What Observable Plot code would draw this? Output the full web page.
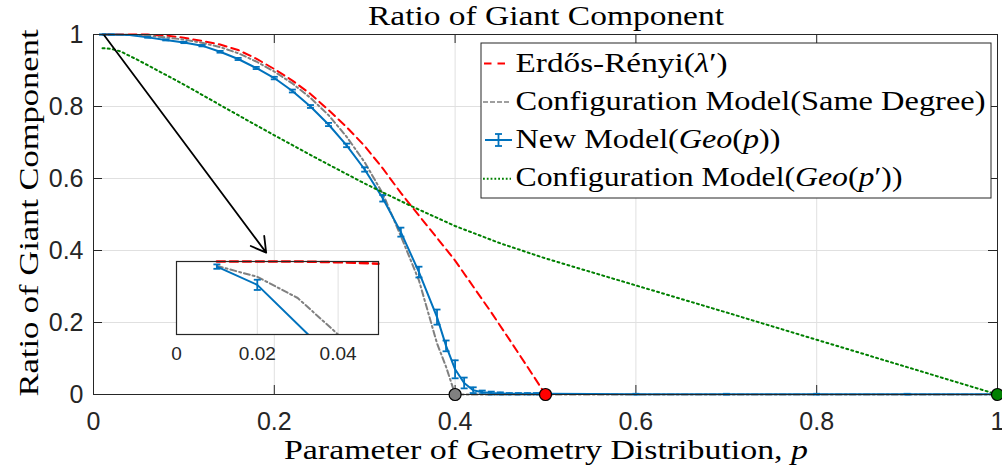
<!DOCTYPE html>
<html><head><meta charset="utf-8">
<script src="https://cdn.jsdelivr.net/npm/d3@7"></script>
<script src="https://cdn.jsdelivr.net/npm/@observablehq/plot@0.6"></script>
<style>
body{margin:0;background:#fff;}
#wrap{position:relative;width:1002px;height:473px;overflow:hidden;background:#fff}
#wrap > svg{position:absolute}
#overlay text, #overlay tspan{font-family:"Liberation Serif","Times New Roman",serif !important;}
</style></head><body><div id="wrap"></div>
<script>
// ---------------- data ----------------
const xTicks = [0, 0.2, 0.4, 0.6, 0.8, 1];
const yTicks = [0, 0.2, 0.4, 0.6, 0.8, 1];
const insetTicks = [0, 0.02, 0.04];

// Erdős-Rényi(λ')
const pER = [0.01,0.02,0.03,0.04,0.05,0.06,0.08,0.10,0.12,0.14,0.16,0.18,0.20,0.22,0.24,0.26,0.28,0.30,0.32,0.34,0.36,0.38,0.40,0.42,0.44,0.46,0.48,0.50];
const vER = [1,1,1,0.99999,0.99997,0.9998,0.997,0.991,0.982,0.972,0.957,0.933,0.904,0.872,0.835,0.79,0.743,0.69,0.628,0.56,0.497,0.435,0.372,0.30,0.228,0.153,0.077,0];

// Configuration Model (Same Degree)
const pSame = [0.01,0.02,0.03,0.04,0.05,0.06,0.08,0.10,0.12,0.14,0.16,0.18,0.20,0.22,0.24,0.26,0.28,0.30,0.32,0.34,0.36,0.38,0.39,0.40,0.50,0.60,0.70,0.80,0.90,1.00];
const vSame = [0.99994,0.99979,0.9995,0.999,0.998,0.9965,0.992,0.986,0.977,0.965,0.948,0.925,0.897,0.864,0.824,0.776,0.716,0.645,0.558,0.44,0.317,0.142,0.077,0,0,0,0,0,0,0];

// New Model (Geo(p)) with error bars
const pNew = [0.01,0.02,0.04,0.06,0.08,0.10,0.12,0.14,0.16,0.18,0.20,0.22,0.24,0.26,0.28,0.30,0.32,0.34,0.36,0.38,0.39,0.40,0.41,0.42,0.43,0.44,0.45,0.46,0.47,0.48,0.49,0.50,0.60,0.70,0.80,0.90,1.00];
const vNew = [0.99993,0.99968,0.9986,0.992,0.985,0.978,0.969,0.952,0.932,0.907,0.879,0.843,0.80,0.75,0.692,0.625,0.545,0.451,0.34,0.215,0.135,0.07,0.032,0.012,0.006,0.004,0.003,0.002,0.002,0.002,0.002,0.002,0.001,0.001,0.001,0.001,0.001];
const eNew = [0.00003,0.00007,0.0003,0.001,0.0015,0.002,0.002,0.0025,0.003,0.003,0.0035,0.004,0.004,0.0045,0.005,0.006,0.009,0.0125,0.015,0.021,0.015,0.025,0.015,0.008,0.005,0.004,0.003,0.002,0.002,0.002,0.002,0.001,0.001,0.001,0.001,0.001,0.001];

// Configuration Model (Geo(p'))
const pGeo = [0.01,0.02,0.03,0.05,0.10,0.15,0.20,0.25,0.30,0.35,0.40,0.45,0.50,0.60,0.70,0.80,0.90,1.00];
const vGeo = [0.962,0.96,0.953,0.928,0.861,0.79,0.72,0.652,0.586,0.525,0.468,0.42,0.378,0.303,0.228,0.152,0.076,0];

// critical points (thresholds)
const critP = [0.4, 0.5, 1.0];
const critV = [0, 0, 0];

// annotation arrow (from top-left of the curve to the inset)
const arrowFrom = [0.012, 0.997];
const arrowTo = [0.191, 0.394];

const titleText = "Ratio of Giant Component";
const xLabelParts = [["Parameter of Geometry Distribution, ", 0], ["p", 1]];
const yLabelText = "Ratio of Giant Component";
const legendEntries = [
  [["Erdős-Rényi(", 0], ["λ", 1], ["′)", 0]],
  [["Configuration Model(Same Degree)", 0]],
  [["New Model(", 0], ["Geo", 1], ["(", 0], ["p", 1], ["))", 0]],
  [["Configuration Model(", 0], ["Geo", 1], ["(", 0], ["p", 1], ["′))", 0]]
];

// ---------------- build tables ----------------
const erData = pER.map((p, i) => ({p, v: vER[i]}));
const sameData = pSame.map((p, i) => ({p, v: vSame[i]}));
const newData = pNew.map((p, i) => ({p, v: vNew[i], e: eNew[i]}));
const geoData = pGeo.map((p, i) => ({p, v: vGeo[i]}));
const critData = critP.map((p, i) => ({p, v: critV[i], k: i}));
const arrowData = [{x1: arrowFrom[0], y1: arrowFrom[1], x2: arrowTo[0], y2: arrowTo[1]}];

// ---------------- styles ----------------
const RED = "#ff0000", GRAY = "#808080", BLUE = "#0072bd", GREEN = "#008000";
const AX = "#262626", GRID = "#e0e0e0";
const critFill = [GRAY, RED, GREEN];
const sans = "'Liberation Sans', Arial, Helvetica, sans-serif";
const serif = "'Liberation Serif', 'Times New Roman', serif";
const fmt = d => String(+d.toFixed(4));

const capSymbol = {draw(ctx) { ctx.moveTo(-3.5, 0); ctx.lineTo(3.5, 0); }};

const W = 1002, H = 473, mL = 93, mR = 5, mT = 34, mB = 79;
const innerW = W - mL - mR, innerH = H - mT - mB;
const tickLen = 9;

const main = Plot.plot({
  width: W, height: H, marginLeft: mL, marginRight: mR, marginTop: mT, marginBottom: mB,
  style: {fontFamily: sans, color: AX, background: "transparent", overflow: "visible"},
  x: {domain: [0, 1]},
  y: {domain: [0, 1]},
  marks: [
    Plot.gridX(xTicks.slice(1, -1), {stroke: GRID, strokeOpacity: 1}),
    Plot.gridY(yTicks.slice(1, -1), {stroke: GRID, strokeOpacity: 1}),
    Plot.tickX(xTicks, {x: d => d, insetTop: innerH - tickLen, stroke: AX}),
    Plot.tickX(xTicks, {x: d => d, insetBottom: innerH - tickLen, stroke: AX}),
    Plot.tickY(yTicks, {y: d => d, insetRight: innerW - tickLen, stroke: AX}),
    Plot.tickY(yTicks, {y: d => d, insetLeft: innerW - tickLen, stroke: AX}),
    Plot.axisX(xTicks, {tickSize: 0, tickPadding: 18, fontSize: 25, tickFormat: fmt, label: null}),
    Plot.axisY(yTicks, {tickSize: 0, tickPadding: 10, fontSize: 25, tickFormat: fmt, label: null}),
    Plot.line(erData, {x: "p", y: "v", stroke: RED, strokeWidth: 2, strokeDasharray: "8,5"}),
    Plot.line(sameData, {x: "p", y: "v", stroke: GRAY, strokeWidth: 2, strokeDasharray: "6,3,2,3"}),
    Plot.line(newData, {x: "p", y: "v", stroke: BLUE, strokeWidth: 2}),
    Plot.ruleX(newData, {x: "p", y1: d => d.v - d.e, y2: d => d.v + d.e, stroke: BLUE, strokeWidth: 1.8}),
    Plot.dot(newData, {x: "p", y: d => d.v + d.e, symbol: capSymbol, fill: "none", stroke: BLUE, strokeWidth: 1.8}),
    Plot.dot(newData, {x: "p", y: d => d.v - d.e, symbol: capSymbol, fill: "none", stroke: BLUE, strokeWidth: 1.8}),
    Plot.line(geoData, {x: "p", y: "v", stroke: GREEN, strokeWidth: 2, strokeDasharray: "2,3.2"}),
    Plot.arrow(arrowData, {x1: "x1", y1: "y1", x2: "x2", y2: "y2", stroke: "black", strokeWidth: 1.8, headLength: 14, bend: 0}),
    Plot.frame({stroke: AX}),
    Plot.dot(critData, {x: "p", y: "v", r: 6, fill: d => critFill[d.k], stroke: "black", strokeWidth: 1.2})
  ]
});
main.style.left = "0px"; main.style.top = "0px";
document.getElementById("wrap").appendChild(main);

// ---------------- inset ----------------
const iL = 12, iR = 6, iT = 2, iB = 32, iW = 202, iH = 73;
const inset = Plot.plot({
  width: iL + iW + iR, height: iT + iH + iB,
  marginLeft: iL, marginRight: iR, marginTop: iT, marginBottom: iB,
  style: {fontFamily: sans, color: AX, background: "transparent", overflow: "visible"},
  x: {domain: [0, 0.05]},
  y: {domain: [0.999, 1], axis: null},
  marks: [
    Plot.frame({fill: "white", stroke: "none"}),
    Plot.gridX(insetTicks.slice(1), {stroke: GRID, strokeOpacity: 1}),
    Plot.line(erData.filter(d => d.p <= 0.05), {x: "p", y: "v", stroke: RED, strokeWidth: 2.5, strokeDasharray: "8,5"}),
    Plot.line(sameData, {x: "p", y: "v", stroke: GRAY, strokeWidth: 2, strokeDasharray: "6,3,2,3", clip: true}),
    Plot.line(newData, {x: "p", y: "v", stroke: BLUE, strokeWidth: 2, clip: true}),
    Plot.ruleX(newData, {x: "p", y1: d => d.v - d.e, y2: d => d.v + d.e, stroke: BLUE, strokeWidth: 1.8, clip: true}),
    Plot.dot(newData, {x: "p", y: d => d.v + d.e, symbol: capSymbol, fill: "none", stroke: BLUE, strokeWidth: 1.8, clip: true}),
    Plot.dot(newData, {x: "p", y: d => d.v - d.e, symbol: capSymbol, fill: "none", stroke: BLUE, strokeWidth: 1.8, clip: true}),
    Plot.axisX(insetTicks, {tickSize: 0, tickPadding: 12, fontSize: 19, tickFormat: fmt, label: null}),
    Plot.frame({stroke: AX, strokeWidth: 1.2})
  ]
});
inset.style.left = (176 - iL) + "px"; inset.style.top = (260.7 - iT) + "px";
document.getElementById("wrap").appendChild(inset);

// ---------------- text overlay: title, axis labels, legend ----------------
const ov = d3.select("#wrap").append("svg").attr("id", "overlay")
  .attr("width", W).attr("height", H)
  .style("left", "0px").style("top", "0px").attr("fill", "#000");

function addParts(t, parts) {
  parts.forEach(([s, it]) => t.append("tspan")
    .style("font-family", serif)
    .style("font-style", it ? "italic" : "normal").text(s));
}
function serifText(sel) {
  return sel.append("text").style("font-family", serif).attr("lengthAdjust", "spacingAndGlyphs");
}

serifText(ov).attr("x", 546).attr("y", 25).attr("text-anchor", "middle")
  .style("font-size", "27px").attr("textLength", 356).text(titleText);

const xl = serifText(ov).attr("x", 546).attr("y", 459).attr("text-anchor", "middle")
  .style("font-size", "28px").attr("textLength", 524);
addParts(xl, xLabelParts);

serifText(ov).attr("transform", "translate(38,213) rotate(-90)").attr("text-anchor", "middle")
  .style("font-size", "28px").attr("textLength", 367).text(yLabelText);

// legend
const lg = ov.append("g");
lg.append("rect").attr("x", 481).attr("y", 43).attr("width", 510).attr("height", 155)
  .attr("fill", "white").attr("stroke", AX).attr("stroke-width", 1);
const rowY = [63.6, 102, 140, 178.8];
const baseY = [71.5, 110.3, 147.6, 185.7];
const textLen = [212, 470, 265, 387];
const sw = [
  g => g.append("line").attr("x1", 484).attr("x2", 506).attr("stroke", RED).attr("stroke-width", 2).attr("stroke-dasharray", "7.5,6"),
  g => g.append("line").attr("x1", 483).attr("x2", 511).attr("stroke", GRAY).attr("stroke-width", 1.6).attr("stroke-dasharray", "5,2"),
  g => {
    g.append("line").attr("x1", 485).attr("x2", 512).attr("stroke", BLUE).attr("stroke-width", 2);
    g.append("line").attr("x1", 498.5).attr("x2", 498.5).attr("y1", -6).attr("y2", 6).attr("stroke", BLUE).attr("stroke-width", 1.8);
    g.append("line").attr("x1", 495).attr("x2", 502).attr("y1", -6).attr("y2", -6).attr("stroke", BLUE).attr("stroke-width", 1.8);
    g.append("line").attr("x1", 495).attr("x2", 502).attr("y1", 6).attr("y2", 6).attr("stroke", BLUE).attr("stroke-width", 1.8);
  },
  g => g.append("line").attr("x1", 483).attr("x2", 511).attr("stroke", GREEN).attr("stroke-width", 2).attr("stroke-dasharray", "1.8,2")
];
legendEntries.forEach((parts, i) => {
  const g = lg.append("g").attr("transform", `translate(0,${rowY[i]})`);
  sw[i](g);
  const t = serifText(lg).attr("x", 515.5).attr("y", baseY[i]).style("font-size", "28px")
    .attr("textLength", textLen[i]);
  addParts(t, parts);
});
</script></body></html>
